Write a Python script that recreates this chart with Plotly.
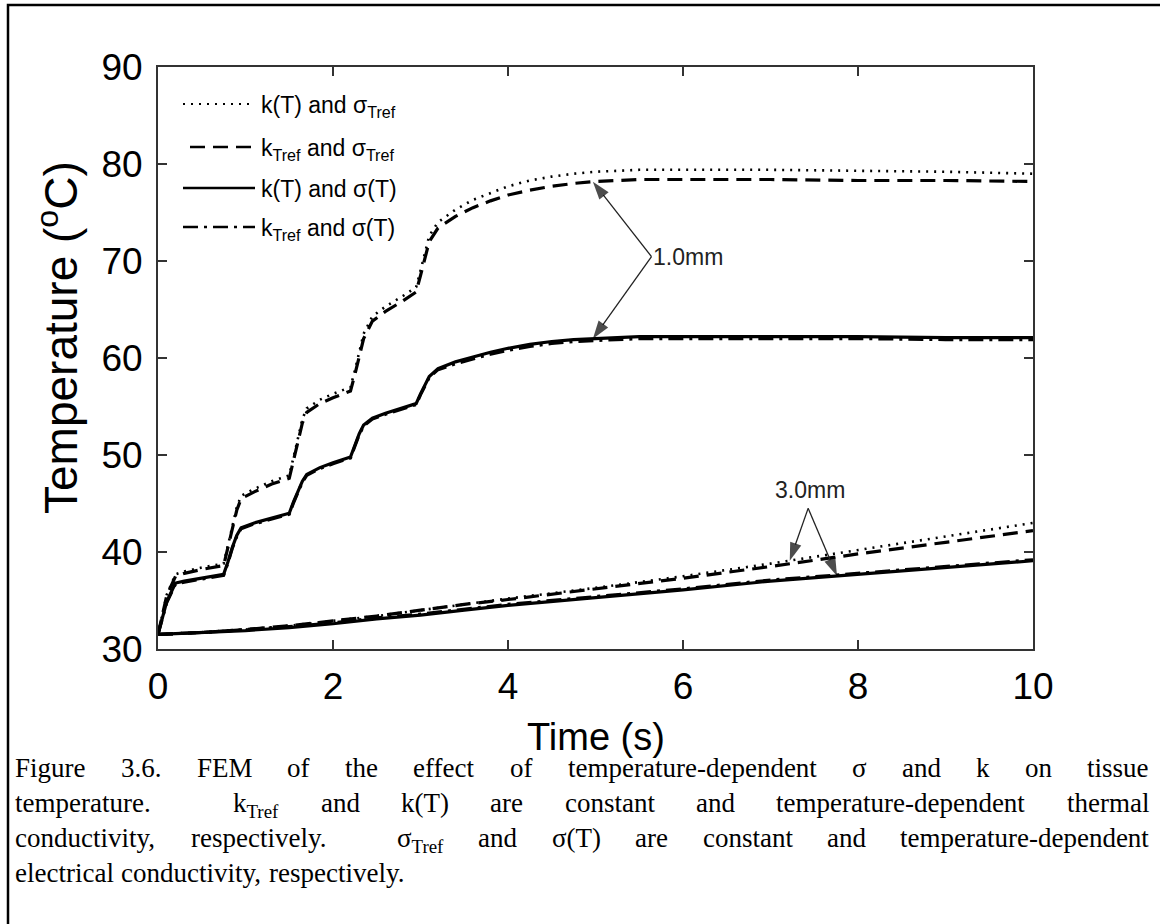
import numpy as np
import plotly.graph_objects as go

# ---------------------------------------------------------------------------
# Data: tissue temperature (deg C) versus time (s)
# ---------------------------------------------------------------------------
# 1.0 mm depth: stepped heating
t_1mm = [0, 0.05, 0.1, 0.2, 0.3, 0.5, 0.75, 0.8, 0.85, 0.9, 0.95, 1.1, 1.3, 1.5,
         1.55, 1.6, 1.65, 1.7, 1.85, 2.0, 2.2, 2.25, 2.3, 2.35, 2.45, 2.6, 2.8,
         2.95, 3.0, 3.05, 3.1, 3.2, 3.4, 3.6, 3.8, 4.0, 4.25, 4.5, 4.75, 5.0,
         5.5, 6, 7, 8, 9, 10]
kT_sTref_1mm = [31.5, 33.6, 35.6, 37.7, 38.0, 38.4, 38.8, 40.7, 42.8, 44.6, 45.8,
                46.5, 47.3, 47.9, 49.8, 51.8, 53.7, 54.8, 55.7, 56.3, 57.0, 58.7,
                60.7, 62.5, 64.3, 65.3, 66.4, 67.3, 69.0, 70.9, 72.6, 74.0, 75.3,
                76.3, 77.0, 77.7, 78.3, 78.7, 79.0, 79.2, 79.4, 79.4, 79.4, 79.3,
                79.2, 79.0]
kTref_sTref_1mm = [31.5, 33.5, 35.5, 37.5, 37.8, 38.2, 38.6, 40.5, 42.5, 44.3, 45.5,
                   46.2, 47.0, 47.6, 49.5, 51.5, 53.3, 54.4, 55.3, 55.9, 56.6, 58.3,
                   60.2, 62.0, 63.8, 64.8, 65.9, 66.8, 68.5, 70.3, 72.0, 73.4, 74.6,
                   75.5, 76.2, 76.8, 77.3, 77.7, 78.0, 78.2, 78.4, 78.4, 78.4, 78.3,
                   78.3, 78.2]
kT_sT_1mm = [31.5, 33.2, 34.9, 36.8, 37.0, 37.3, 37.7, 39.0, 40.5, 41.7, 42.5,
             43.0, 43.5, 44.0, 45.2, 46.3, 47.3, 48.0, 48.7, 49.2, 49.8, 51.0,
             52.2, 53.1, 53.8, 54.3, 54.9, 55.3, 56.3, 57.3, 58.1, 58.9, 59.6,
             60.1, 60.6, 61.0, 61.4, 61.7, 61.9, 62.0, 62.2, 62.2, 62.2, 62.2,
             62.1, 62.1]
kTref_sT_1mm = [31.5, 33.1, 34.8, 36.7, 36.9, 37.2, 37.6, 38.9, 40.4, 41.6, 42.4,
                42.9, 43.4, 43.9, 45.1, 46.2, 47.2, 47.9, 48.6, 49.1, 49.7, 50.9,
                52.1, 53.0, 53.7, 54.2, 54.8, 55.2, 56.2, 57.2, 58.0, 58.8, 59.4,
                59.9, 60.4, 60.8, 61.2, 61.5, 61.7, 61.8, 62.0, 62.0, 62.0, 62.0,
                61.9, 61.9]

# 3.0 mm depth: slow rise
t_3mm = [0, 0.5, 1, 1.5, 2, 2.5, 3, 3.5, 4, 5, 6, 7, 8, 9, 10]
kT_sTref_3mm = [31.5, 31.7, 32.0, 32.4, 32.9, 33.4, 34.0, 34.6, 35.2, 36.3, 37.5,
                38.8, 40.2, 41.6, 43.0]
kTref_sTref_3mm = [31.5, 31.7, 32.0, 32.4, 32.9, 33.4, 34.0, 34.6, 35.1, 36.2, 37.3,
                   38.5, 39.8, 41.0, 42.2]
kT_sT_3mm = [31.5, 31.7, 31.9, 32.2, 32.6, 33.1, 33.5, 34.0, 34.5, 35.3, 36.1,
             37.0, 37.7, 38.4, 39.1]
kTref_sT_3mm = [31.5, 31.7, 32.0, 32.3, 32.7, 33.2, 33.6, 34.1, 34.6, 35.4, 36.2,
                37.1, 37.8, 38.5, 39.2]

x_ticks = [0, 2, 4, 6, 8, 10]
y_ticks = [30, 40, 50, 60, 70, 80, 90]

legend_labels = ["k(T) and σ<sub>Tref</sub>",
                 "k<sub>Tref</sub> and σ<sub>Tref</sub>",
                 "k(T) and σ(T)",
                 "k<sub>Tref</sub> and σ(T)"]

caption_lines = [
    "Figure 3.6. FEM of the effect of temperature-dependent σ and k on tissue",
    "temperature.  k_Tref and k(T) are constant and temperature-dependent thermal",
    "conductivity, respectively.  σ_Tref and σ(T) are constant and temperature-dependent",
    "electrical conductivity, respectively.",
]

# ---------------------------------------------------------------------------
# Page geometry (pixels)
# ---------------------------------------------------------------------------
W, H = 1160, 924
PL, PR, PT, PB = 158, 1033, 67, 649
PW, PH = PR - PL, PB - PT


def px(x):
    return (x - PL) / PW


def py(y):
    return (PB - y) / PH


SANS = "Liberation Sans, Arial, Helvetica, sans-serif"
SERIF = "Liberation Serif, Times New Roman, serif"
INK = "#000000"

styles = {
    "dot": dict(dash="2px,6px", width=2.6),
    "dash": dict(dash="15px,8px", width=3.2),
    "solid": dict(dash="solid", width=3.2),
    "dashdot": dict(dash="15px,6px,3px,6px", width=3.2),
}

fig = go.Figure()

series = [
    (t_1mm, kT_sTref_1mm, "dot"), (t_1mm, kTref_sTref_1mm, "dash"),
    (t_1mm, kT_sT_1mm, "solid"), (t_1mm, kTref_sT_1mm, "dashdot"),
    (t_3mm, kT_sTref_3mm, "dot"), (t_3mm, kTref_sTref_3mm, "dash"),
    (t_3mm, kT_sT_3mm, "solid"), (t_3mm, kTref_sT_3mm, "dashdot"),
]
for tt, yy, st in series:
    fig.add_trace(go.Scatter(
        x=tt, y=yy, mode="lines", showlegend=False, hoverinfo="skip",
        line=dict(color=INK, width=styles[st]["width"], dash=styles[st]["dash"]),
    ))

# ---- depth call-outs: thin leader lines ending in filled arrowheads ---------
apex_1mm = (5.64, 70.45)
apex_3mm = (7.43, 44.5)
callouts = [
    (apex_1mm, 4.97, t_1mm, kTref_sTref_1mm),
    (apex_1mm, 4.97, t_1mm, kT_sT_1mm),
    (apex_3mm, 7.22, t_3mm, kT_sTref_3mm),
    (apex_3mm, 7.76, t_3mm, kT_sT_3mm),
]
for (ax_t, ax_y), tip_t, ct, cy in callouts:
    tip_y = float(np.interp(tip_t, ct, cy))
    fig.add_trace(go.Scatter(
        x=[ax_t, tip_t], y=[ax_y, tip_y], mode="lines+markers",
        showlegend=False, hoverinfo="skip",
        line=dict(color="#222", width=1.3),
        marker=dict(symbol=["circle", "arrow"], size=[0, 19], angleref="previous",
                    color="#000", line=dict(width=0)),
    ))

annotations = []
shapes = []

# ---- legend drawn inside the axes (no box) ---------------------------------
legend_rows = [104, 147, 188, 227]
legend_styles = ["dot", "dash", "solid", "dashdot"]
for row_y, lab, st in zip(legend_rows, legend_labels, legend_styles):
    x0 = 190 if st == "dash" else 183
    shapes.append(dict(
        type="line", xref="paper", yref="paper",
        x0=px(x0), x1=px(255), y0=py(row_y), y1=py(row_y),
        line=dict(color=INK, width=2.4 if st != "dot" else 2.2, dash=styles[st]["dash"]),
    ))
    annotations.append(dict(
        xref="paper", yref="paper", x=px(260), y=py(row_y - 13),
        xanchor="left", yanchor="top", text=lab, showarrow=False,
        font=dict(family=SANS, size=23, color=INK), borderpad=0,
    ))

annotations.append(dict(xref="x", yref="y", x=apex_1mm[0], y=apex_1mm[1],
                        xanchor="left", yanchor="middle", text="1.0mm",
                        showarrow=False, borderpad=0,
                        font=dict(family=SANS, size=23, color="#222")))
annotations.append(dict(xref="x", yref="y", x=apex_3mm[0] + 0.02, y=apex_3mm[1] + 0.4,
                        xanchor="center", yanchor="bottom", text="3.0mm",
                        showarrow=False, borderpad=0,
                        font=dict(family=SANS, size=23, color="#222")))

# ---- axis titles ------------------------------------------------------------
annotations.append(dict(xref="paper", yref="paper", x=0.5, y=py(737),
                        xanchor="center", yanchor="middle", text="Time (s)",
                        showarrow=False, font=dict(family=SANS, size=38, color=INK)))
annotations.append(dict(xref="paper", yref="paper", x=px(58), y=py(338),
                        xanchor="center", yanchor="middle", textangle=-90,
                        text="Temperature (<sup>o</sup>C)",
                        showarrow=False, font=dict(family=SANS, size=46, color=INK)))

# ---- caption, fully justified ----------------------------------------------
TIMES_W = {
    " ": 250, "a": 444, "b": 500, "c": 444, "d": 500, "e": 444, "f": 333, "g": 500,
    "h": 500, "i": 278, "j": 278, "k": 500, "l": 278, "m": 778, "n": 500, "o": 500,
    "p": 500, "q": 500, "r": 333, "s": 389, "t": 278, "u": 500, "v": 500, "w": 722,
    "x": 500, "y": 500, "z": 444, "A": 722, "B": 667, "C": 667, "D": 722, "E": 611,
    "F": 556, "G": 722, "H": 722, "I": 333, "J": 389, "K": 722, "L": 611, "M": 889,
    "N": 722, "O": 722, "P": 556, "Q": 722, "R": 667, "S": 556, "T": 611, "U": 722,
    "V": 722, "W": 944, "X": 722, "Y": 722, "Z": 611, ".": 250, ",": 250, "-": 333,
    "(": 333, ")": 333, "σ": 550,
}
CAP_SIZE = 27
CAP_LEFT, CAP_RIGHT = 14, 1148
CAP_TOPS = [752, 787, 822, 857]


def str_w(s):
    return sum(TIMES_W.get(c, 500) for c in s) * CAP_SIZE / 1000.0


def word_markup(word):
    if "_" in word:
        base, sub = word.split("_", 1)
        return base + "<sub>" + sub + "</sub>", str_w(base) + 0.7 * str_w(sub)
    return word, str_w(word)


for i, line in enumerate(caption_lines):
    parts = line.split(" ")
    words, gaps = [], []
    pending = 0
    for p_ in parts:
        if p_ == "":
            pending += 1
            continue
        if words:
            gaps.append(pending + 1)
        words.append(word_markup(p_))
        pending = 0
    total_words = sum(w for _, w in words)
    if i < len(caption_lines) - 1:
        per_space = (CAP_RIGHT - CAP_LEFT - total_words) / sum(gaps)
    else:
        per_space = str_w(" ")
    xcur = CAP_LEFT
    for j, (txt, wid) in enumerate(words):
        annotations.append(dict(
            xref="paper", yref="paper", x=px(xcur), y=py(CAP_TOPS[i]),
            xanchor="left", yanchor="top", text=txt, showarrow=False,
            borderpad=0, font=dict(family=SERIF, size=CAP_SIZE, color=INK)))
        if j < len(gaps):
            xcur += wid + gaps[j] * per_space

# ---- page frame -------------------------------------------------------------
shapes.append(dict(type="rect", xref="paper", yref="paper",
                   x0=px(8), x1=px(1200), y0=py(960), y1=py(5),
                   line=dict(color=INK, width=2.5), fillcolor="rgba(0,0,0,0)"))

axis_common = dict(showline=True, linewidth=2, linecolor="#333", mirror="ticks",
                   ticks="inside", ticklen=9, tickwidth=1.5, tickcolor="#333",
                   showgrid=False, zeroline=False,
                   tickfont=dict(family=SANS, size=37, color=INK))

fig.update_layout(
    width=W, height=H,
    margin=dict(l=PL, r=W - PR, t=PT, b=H - PB),
    paper_bgcolor="white", plot_bgcolor="white",
    showlegend=False,
    xaxis=dict(axis_common, range=[0, 10], tickvals=x_ticks, ticklabelstandoff=4),
    yaxis=dict(axis_common, range=[30, 90], tickvals=y_ticks, ticklabelstandoff=6),
    annotations=annotations,
    shapes=shapes,
)

fig.write_html("out.html")
